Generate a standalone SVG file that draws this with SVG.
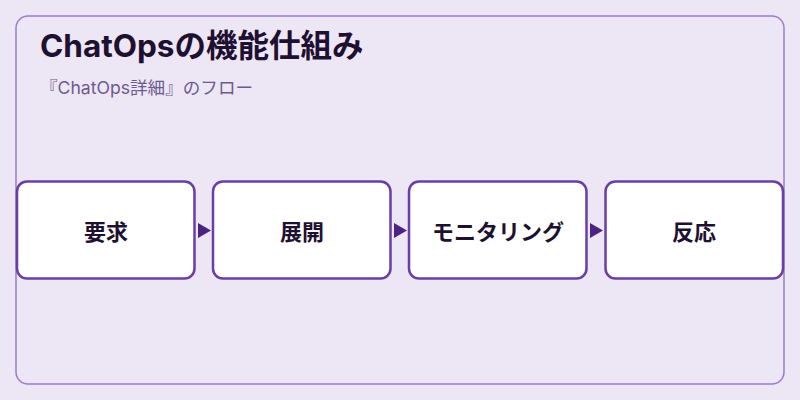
<svg xmlns="http://www.w3.org/2000/svg" width="800" height="400" viewBox="0 0 800 400">
<style>
.frame{fill:#ede6f5;stroke:#9b7bd0;stroke-width:1.5}
.title{font-family:Inter,"Noto Sans CJK JP",sans-serif;font-weight:700;font-size:31.5px;fill:#1e1030}
.sub{font-family:Inter,"Noto Sans CJK JP",sans-serif;font-size:17.6px;fill:#6b5a8e}
.box{fill:#ffffff;stroke:#6a3fa3;stroke-width:2.5}
.lbl{font-family:"Noto Sans CJK JP",sans-serif;font-weight:700;font-size:22px;fill:#1e1030;text-anchor:middle}
.arr{fill:#4a2480}
</style>
<rect width="800" height="400" fill="#ede6f5"/>
<rect class="frame" x="16" y="16" width="768" height="368" rx="12"/>
<text class="title" x="40" y="57">ChatOpsの機能仕組み</text>
<text class="sub" x="40" y="94">『ChatOps詳細』のフロー</text>
<g id="connectors">
<polygon class="arr" points="198,223 211,230.5 198,238"/>
<polygon class="arr" points="394,223 407,230.5 394,238"/>
<polygon class="arr" points="590,223 603,230.5 590,238"/>
</g>
<g id="node1"><rect class="box" x="17" y="181.5" width="177.5" height="97" rx="10"/><text class="lbl" x="106" y="240">要求</text></g>
<g id="node2"><rect class="box" x="213" y="181.5" width="177.5" height="97" rx="10"/><text class="lbl" x="302" y="240">展開</text></g>
<g id="node3"><rect class="box" x="409" y="181.5" width="177.5" height="97" rx="10"/><text class="lbl" x="498" y="240">モニタリング</text></g>
<g id="node4"><rect class="box" x="605.5" y="181.5" width="177.5" height="97" rx="10"/><text class="lbl" x="694" y="240">反応</text></g>
</svg>
